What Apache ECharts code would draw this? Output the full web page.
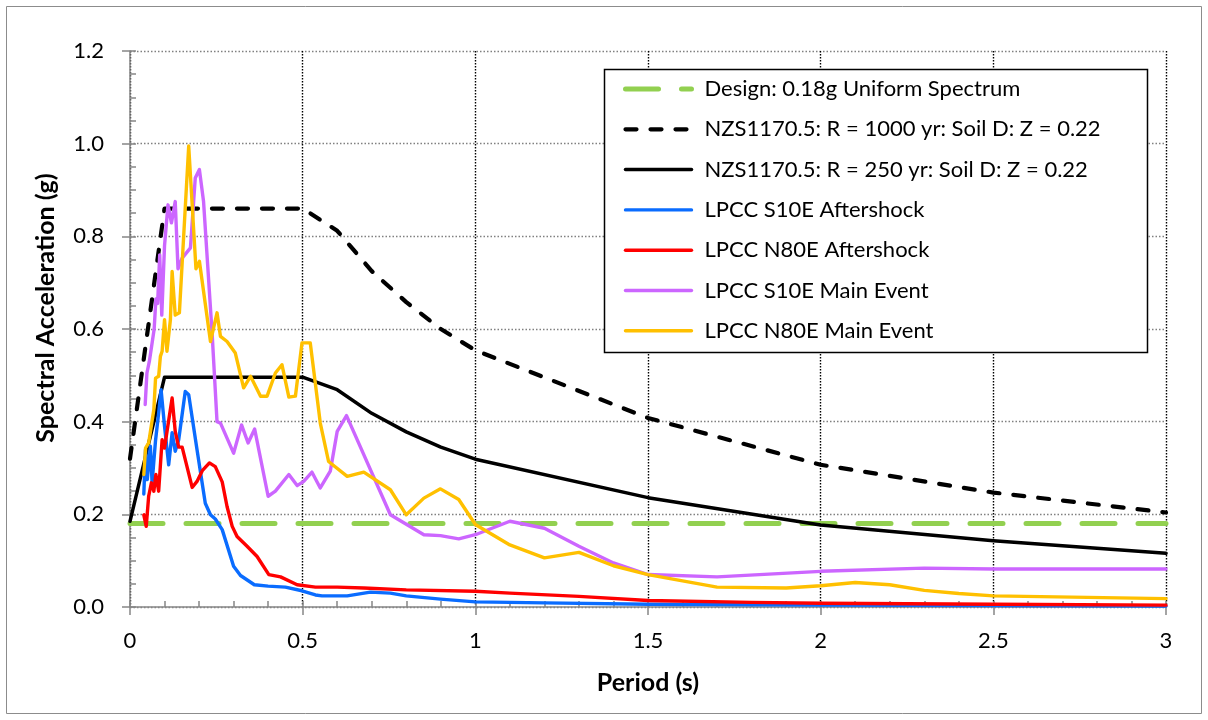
<!DOCTYPE html>
<html>
<head>
<meta charset="utf-8">
<script src="https://cdn.jsdelivr.net/npm/echarts@6/dist/echarts.min.js"></script>
<style>
  html, body { margin: 0; padding: 0; background: #fff; }
  #chart { width: 1208px; height: 720px; }
</style>
</head>
<body>
<div id="chart"></div>
<script>
// ---- Data (period in s, spectral acceleration in g) ----
const seriesNames = [
  'Design: 0.18g Uniform Spectrum',
  'NZS1170.5: R = 1000 yr: Soil D: Z = 0.22',
  'NZS1170.5: R = 250 yr: Soil D: Z = 0.22',
  'LPCC S10E Aftershock',
  'LPCC N80E Aftershock',
  'LPCC S10E Main Event',
  'LPCC N80E Main Event'
];

const designT  = [0, 3];
const designSa = [0.18, 0.18];

const nzsT      = [0, 0.1, 0.5, 0.6, 0.7, 0.8, 0.9, 1.0, 1.5, 2.0, 2.5, 3.0];
const nzs1000Sa = [0.32, 0.86, 0.86, 0.812, 0.725, 0.658, 0.600, 0.554, 0.408, 0.307, 0.247, 0.204];
const nzs250Sa  = [0.185, 0.496, 0.496, 0.469, 0.418, 0.378, 0.345, 0.319, 0.236, 0.177, 0.143, 0.116];

const s10eAfterT  = [0.040, 0.045, 0.050, 0.059, 0.064, 0.074, 0.083, 0.090, 0.100, 0.112, 0.122, 0.131, 0.141, 0.160, 0.170, 0.194, 0.218, 0.233, 0.247, 0.267, 0.300, 0.320, 0.360, 0.400, 0.450, 0.498, 0.537, 0.556, 0.629, 0.696, 0.754, 0.800, 0.899, 1.0, 1.2, 1.5, 2.0, 2.5, 3.0];
const s10eAfterSa = [0.244, 0.340, 0.275, 0.347, 0.268, 0.360, 0.419, 0.469, 0.390, 0.307, 0.376, 0.336, 0.361, 0.465, 0.458, 0.340, 0.224, 0.199, 0.190, 0.167, 0.088, 0.068, 0.048, 0.045, 0.043, 0.035, 0.026, 0.024, 0.024, 0.032, 0.030, 0.024, 0.017, 0.011, 0.009, 0.006, 0.004, 0.003, 0.002];

const n80eAfterT  = [0.040, 0.047, 0.054, 0.062, 0.069, 0.075, 0.083, 0.093, 0.100, 0.110, 0.122, 0.131, 0.141, 0.151, 0.180, 0.194, 0.210, 0.230, 0.247, 0.267, 0.281, 0.296, 0.310, 0.339, 0.368, 0.402, 0.436, 0.484, 0.537, 0.600, 0.677, 0.800, 1.0, 1.1, 1.3, 1.5, 1.8, 2.0, 2.5, 3.0];
const n80eAfterSa = [0.199, 0.174, 0.239, 0.268, 0.250, 0.286, 0.250, 0.361, 0.343, 0.393, 0.451, 0.379, 0.345, 0.345, 0.258, 0.271, 0.295, 0.311, 0.303, 0.270, 0.217, 0.174, 0.152, 0.131, 0.109, 0.070, 0.065, 0.048, 0.043, 0.043, 0.041, 0.037, 0.034, 0.030, 0.023, 0.014, 0.010, 0.008, 0.006, 0.004];

const s10eMainT  = [0.044, 0.049, 0.056, 0.064, 0.070, 0.075, 0.080, 0.086, 0.092, 0.100, 0.110, 0.120, 0.131, 0.139, 0.151, 0.175, 0.189, 0.201, 0.213, 0.238, 0.252, 0.262, 0.300, 0.323, 0.342, 0.361, 0.400, 0.421, 0.460, 0.484, 0.503, 0.527, 0.551, 0.580, 0.600, 0.627, 0.754, 0.851, 0.899, 0.952, 1.0, 1.1, 1.2, 1.3, 1.4, 1.5, 1.7, 2.0, 2.3, 2.5, 3.0];
const s10eMainSa = [0.437, 0.505, 0.530, 0.570, 0.600, 0.665, 0.655, 0.760, 0.630, 0.780, 0.868, 0.829, 0.875, 0.730, 0.753, 0.775, 0.926, 0.944, 0.875, 0.588, 0.400, 0.397, 0.332, 0.393, 0.354, 0.384, 0.239, 0.250, 0.286, 0.262, 0.271, 0.291, 0.257, 0.293, 0.379, 0.413, 0.199, 0.156, 0.154, 0.147, 0.156, 0.185, 0.170, 0.131, 0.095, 0.070, 0.065, 0.077, 0.084, 0.082, 0.082];

const n80eMainT  = [0.040, 0.045, 0.054, 0.069, 0.074, 0.083, 0.088, 0.093, 0.100, 0.107, 0.117, 0.122, 0.131, 0.143, 0.170, 0.191, 0.201, 0.233, 0.252, 0.262, 0.281, 0.305, 0.329, 0.349, 0.378, 0.397, 0.421, 0.440, 0.460, 0.479, 0.498, 0.522, 0.551, 0.575, 0.629, 0.677, 0.754, 0.800, 0.851, 0.899, 0.952, 1.0, 1.1, 1.2, 1.3, 1.4, 1.5, 1.7, 1.9, 2.0, 2.1, 2.2, 2.3, 2.4, 2.5, 3.0];
const n80eMainSa = [0.286, 0.343, 0.354, 0.426, 0.494, 0.498, 0.541, 0.552, 0.620, 0.552, 0.620, 0.724, 0.630, 0.635, 0.995, 0.730, 0.746, 0.573, 0.635, 0.584, 0.573, 0.548, 0.473, 0.498, 0.455, 0.455, 0.505, 0.523, 0.453, 0.455, 0.570, 0.570, 0.397, 0.314, 0.282, 0.291, 0.253, 0.199, 0.235, 0.255, 0.232, 0.178, 0.134, 0.106, 0.118, 0.089, 0.070, 0.043, 0.041, 0.046, 0.053, 0.048, 0.036, 0.029, 0.024, 0.018];

const xTicks = [0, 0.5, 1, 1.5, 2, 2.5, 3];
const yTicks = [0.0, 0.2, 0.4, 0.6, 0.8, 1.0, 1.2];

// ---- helpers ----
const zip = (t, s) => t.map((v, i) => [v, s[i]]);
const FONT = 'Lato';

const colors = ['#92D050', '#000000', '#000000', '#0A6CFF', '#FF0000', '#CC66FF', '#FFC000'];
const widths = [5, 4.2, 3.5, 3.4, 3.4, 3.4, 3.4];
const types  = [[33, 23], [11, 14], 'solid', 'solid', 'solid', 'solid', 'solid'];
const dataSets = [
  zip(designT, designSa),
  zip(nzsT, nzs1000Sa),
  zip(nzsT, nzs250Sa),
  zip(s10eAfterT, s10eAfterSa),
  zip(n80eAfterT, n80eAfterSa),
  zip(s10eMainT, s10eMainSa),
  zip(n80eMainT, n80eMainSa)
];

const series = seriesNames.map((name, i) => ({
  name,
  type: 'line',
  data: dataSets[i],
  showSymbol: false,
  symbol: 'none',
  smooth: false,
  z: 2 + i * 0.01,
  lineStyle: { color: colors[i], width: widths[i], type: types[i], cap: 'round', join: 'round' },
  itemStyle: { color: colors[i] },
  emphasis: { disabled: true }
}));

const chart = echarts.init(document.getElementById('chart'), null, { renderer: 'canvas' });

chart.setOption({
  animation: false,
  backgroundColor: '#ffffff',
  textStyle: { fontFamily: FONT },
  grid: { left: 130, right: 42, top: 51, bottom: 113, containLabel: false },
  graphic: [
    { type: 'rect', z: -1, shape: { x: 6.5, y: 6.5, width: 1195, height: 707 },
      style: { fill: 'none', stroke: '#8c8c8c', lineWidth: 1 } },
    { type: 'rect', z: 3, shape: { x: 604.5, y: 69.5, width: 543, height: 283 },
      style: { fill: '#ffffff', stroke: '#000000', lineWidth: 1.5 } },
    { type: 'text', z: 5, x: 46, y: 308, rotation: Math.PI / 2,
      style: { text: 'Spectral Acceleration (g)', font: 'bold 25px ' + FONT, fill: '#000',
               align: 'center', verticalAlign: 'middle' } }
  ],
  legend: {
    orient: 'vertical',
    left: 623,
    top: 77,
    padding: 0,
    itemWidth: 66,
    itemHeight: 14,
    itemGap: 16.3,
    z: 6,
    data: seriesNames,
    itemStyle: { opacity: 0, borderWidth: 0 },
    lineStyle: { width: 'inherit', type: 'inherit', cap: 'round' },
    textStyle: { fontFamily: FONT, fontSize: 22, color: '#000', lineHeight: 24, padding: [0, 0, 0, 8] },
    selectedMode: false
  },
  xAxis: [
    {
      type: 'value', min: 0, max: 3, interval: 0.5,
      name: 'Period (s)', nameLocation: 'middle', nameGap: 63,
      nameTextStyle: { fontFamily: FONT, fontSize: 25, fontWeight: 'bold', color: '#000' },
      axisLine: { show: true, lineStyle: { color: '#868686', width: 1.5 } },
      axisTick: { show: true, inside: false, length: 8, lineStyle: { color: '#868686', width: 1.5 } },
      axisLabel: { fontFamily: FONT, fontSize: 22, color: '#000', margin: 23,
        formatter: v => (xTicks.includes(v) ? String(v) : '') },
      splitLine: { show: true, lineStyle: { color: '#000', width: 1.4, type: [1.5, 1.5] } }
    },
    {
      type: 'value', min: 0, max: 3, interval: 0.1, position: 'bottom',
      axisLine: { show: false },
      axisTick: { show: true, inside: true, length: 6, lineStyle: { color: '#868686', width: 1.5 } },
      axisLabel: { show: false },
      splitLine: { show: false }
    }
  ],
  yAxis: [
    {
      type: 'value', min: 0, max: 1.2, interval: 0.2,
      axisLine: { show: true, lineStyle: { color: '#868686', width: 1.5 } },
      axisTick: { show: true, inside: false, length: 8, lineStyle: { color: '#868686', width: 1.5 } },
      axisLabel: { fontFamily: FONT, fontSize: 22, color: '#000', margin: 26,
        formatter: v => v.toFixed(1) },
      splitLine: { show: true, lineStyle: { color: '#808080', width: 1.3, type: [1.5, 2] } }
    },
    {
      type: 'value', min: 0, max: 1.2, interval: 0.05, position: 'left',
      axisLine: { show: false },
      axisTick: { show: true, inside: true, length: 6, lineStyle: { color: '#868686', width: 1.5 } },
      axisLabel: { show: false },
      splitLine: { show: false }
    }
  ],
  series
});
</script>
</body>
</html>
